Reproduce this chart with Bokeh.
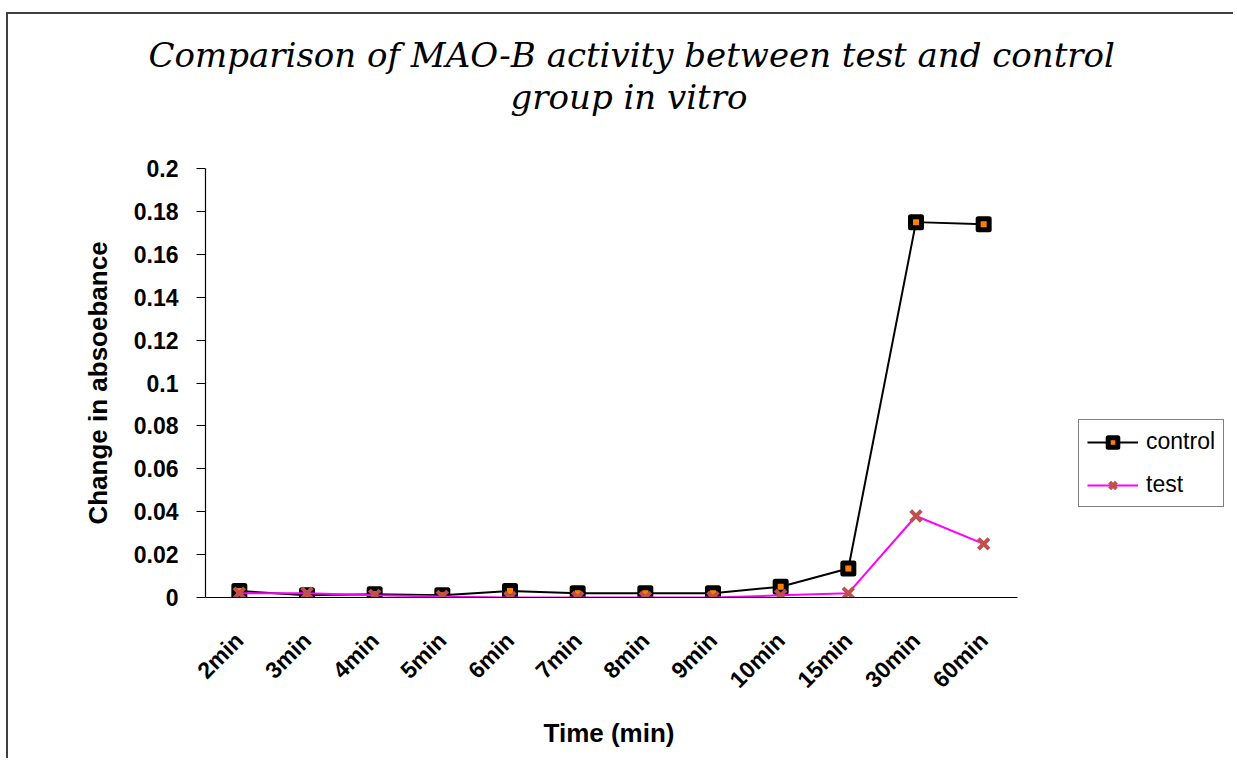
from math import pi
from bokeh.plotting import figure
from bokeh.models import (Range1d, FixedTicker, CustomJSTickFormatter,
                          Title, Legend, LegendItem)
from bokeh.embed import file_html
from bokeh.resources import INLINE

categories = ["2min", "3min", "4min", "5min", "6min", "7min", "8min", "9min",
              "10min", "15min", "30min", "60min"]
control = [0.003, 0.001, 0.0015, 0.001, 0.003, 0.002, 0.002, 0.002, 0.005, 0.0135, 0.175, 0.174]
test = [0.002, 0.002, 0.001, 0.0005, 0.0, 0.0, 0.0, 0.0, 0.001, 0.002, 0.038, 0.025]
y_ticks = [0, 0.02, 0.04, 0.06, 0.08, 0.1, 0.12, 0.14, 0.16, 0.18, 0.2]

title_line1 = "Comparison of MAO-B activity between test and control"
title_line2 = "group in vitro"
x_title = "Time (min)"
y_title = "Change in absoebance"

# category positions (one unit per category)
xpos = list(range(len(categories)))

W, H = 1227, 746
LEFT, TOP, BOTTOM = 197, 154, 163
frame_w = W - LEFT - 2
unit_px = 812 / len(categories)          # width of one category band
x_end = -0.5 + frame_w / unit_px          # extra room on the right for the legend

p = figure(x_range=Range1d(-0.5, x_end), y_range=Range1d(0, 0.2),
           width=W, height=H, output_backend="svg", toolbar_location=None,
           title_location=None,
           min_border_left=LEFT, min_border_right=2, min_border_top=TOP,
           min_border_bottom=BOTTOM)
p.margin = (12, 0, 0, 6)
p.styles = {"border-top": "2px solid #404040", "border-left": "2px solid #404040"}
p.outline_line_color = None
p.background_fill_color = "white"
p.border_fill_color = "white"
p.xgrid.visible = False
p.ygrid.visible = False

cl = p.line(xpos, control, line_color="black", line_width=2)
cs = p.scatter(xpos, control, marker="square", size=11, line_width=5,
               line_color="black", fill_color="#ff8000", line_join="round")
tl = p.line(xpos, test, line_color="#ff00ff", line_width=2)
ts = p.scatter(xpos, test, marker="x", size=15, line_width=4,
               line_color="#c0504d")

# axes
for ax in (p.xaxis, p.yaxis):
    ax.axis_line_color = "black"
    ax.axis_line_width = 1.2
    ax.major_label_text_font = "Liberation Sans"
    ax.major_label_text_font_style = "bold"
    ax.major_label_text_font_size = "23px"
    ax.major_label_text_color = "black"
    ax.axis_label_text_font = "Liberation Sans"
    ax.axis_label_text_font_style = "bold"
    ax.axis_label_text_font_size = "26px"
    ax.axis_label_text_color = "black"
    ax.minor_tick_line_color = None

p.yaxis.ticker = FixedTicker(ticks=y_ticks, minor_ticks=[])
p.yaxis.formatter = CustomJSTickFormatter(code="return parseFloat(tick.toFixed(2)).toString();")
p.yaxis.major_tick_out = 9
p.yaxis.major_tick_in = 0
p.yaxis.major_tick_line_color = "black"
p.yaxis.major_label_standoff = 18
p.yaxis.axis_label = y_title
p.yaxis.axis_label_standoff = 18

p.xaxis.bounds = (-0.5, len(categories) - 0.5)
p.xaxis.ticker = FixedTicker(ticks=xpos, minor_ticks=[])
p.xaxis.formatter = CustomJSTickFormatter(args=dict(labels=categories),
                                          code="return labels[Math.round(tick)];")
p.xaxis.major_tick_out = 0
p.xaxis.major_tick_in = 0
p.xaxis.major_label_orientation = pi / 4
p.xaxis.major_label_standoff = 39

# x-axis title, centred under the category axis (not under the wider frame)
xt = Title(text=x_title, align="left", offset=338,
           text_font="Liberation Sans", text_font_style="bold",
           text_font_size="26px", text_color="black", standoff=22)
p.add_layout(xt, "below")

# chart title: two single-line titles (first added sits closest to the plot area)
t2 = Title(text=title_line2, align="left", offset=305,
           text_font="DejaVu Serif", text_font_style="italic",
           text_font_size="34px", text_color="black", standoff=0,
           padding=(0, 0, 0, 52))
t1 = Title(text=title_line1, align="left", offset=-57,
           text_font="DejaVu Serif", text_font_style="italic",
           text_font_size="34px", text_color="black", standoff=0)
p.add_layout(t2, "above")
p.add_layout(t1, "above")

legend = Legend(items=[LegendItem(label="control", renderers=[cl, cs]),
                       LegendItem(label="test", renderers=[tl, ts])],
                location=(873, 90))
legend.label_text_font = "Liberation Sans"
legend.label_text_font_size = "23px"
legend.label_text_color = "black"
legend.glyph_width = 51
legend.glyph_height = 24
legend.label_standoff = 8
legend.spacing = 16
legend.padding = 8
legend.margin = 0
legend.border_line_color = "black"
legend.border_line_width = 1.2
legend.background_fill_color = "white"
legend.background_fill_alpha = 1
p.add_layout(legend, "center")

open("out.html", "w").write(file_html(p, INLINE))
